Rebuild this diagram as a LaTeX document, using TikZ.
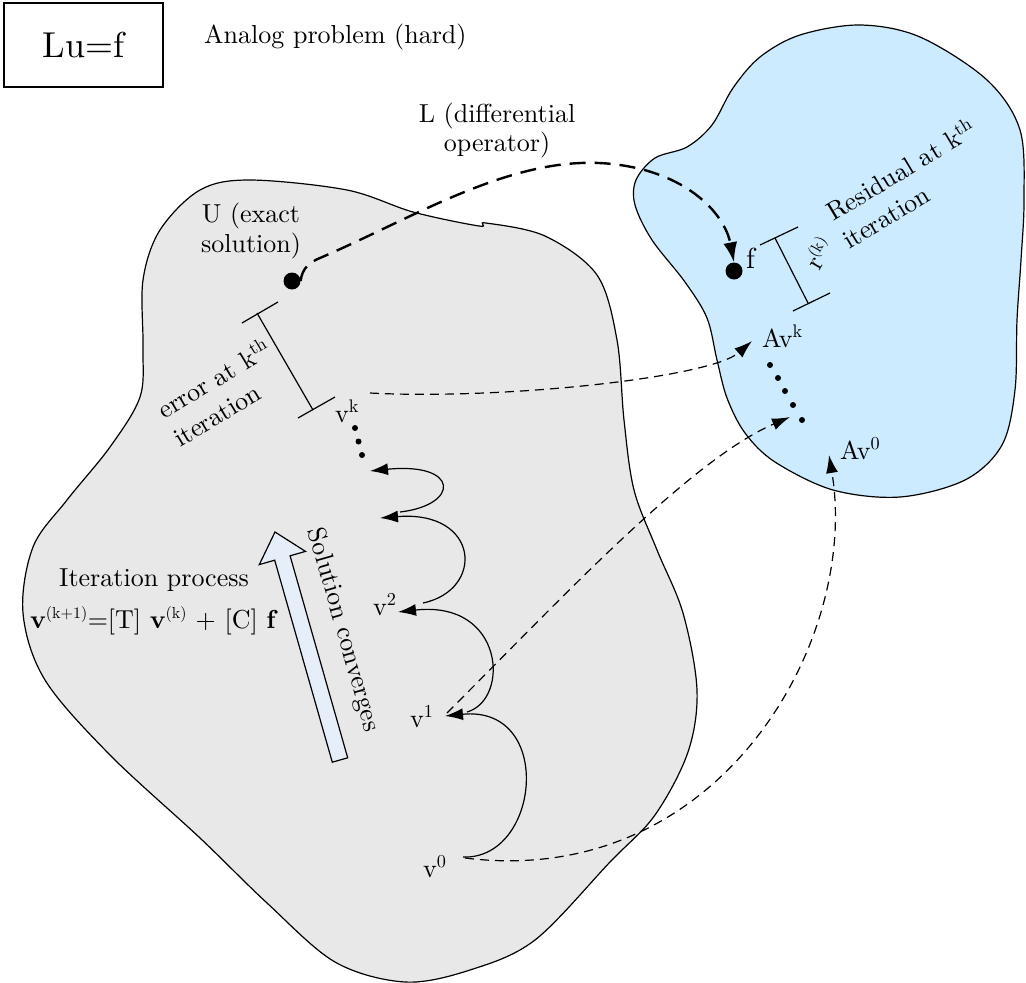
\documentclass[tikz,border=0pt]{standalone}
\usepackage{fontspec}
\setmainfont{lmroman10-regular.otf}[BoldFont=lmroman10-bold.otf]
\usetikzlibrary{arrows.meta}
\definecolor{grayblob}{HTML}{E8E8E8}
\definecolor{blueblob}{HTML}{CCEBFF}
\definecolor{arrowfill}{HTML}{E6EEF9}
\newcommand\smallsup[1]{\textsuperscript{\fontsize{16}{16}\selectfont #1}}
\begin{document}
\begin{tikzpicture}[x=1pt,y=-1pt,
  txt/.style={font=\fontsize{26}{29.5}\selectfont, inner sep=0pt},
  bigtxt/.style={font=\fontsize{36}{40}\selectfont, inner sep=0pt},
  ftxt/.style={font=\fontsize{29}{32}\selectfont, inner sep=0pt},
  outline/.style={draw=black, line width=1.2pt},
  ln/.style={line width=1.2pt},
  dot/.style={circle, fill=black, inner sep=0pt, minimum size=17pt},
  tip/.style={-{Latex[length=18pt,width=12pt]}},
  dashthin/.style={line width=1.2pt, dash pattern=on 9pt off 6pt, tip},
  dashthick/.style={line width=2.4pt, dash pattern=on 16pt off 9pt, -{Latex[length=20pt,width=14pt]}},
  arc/.style={ln, tip}
]
\useasboundingbox (0,0) rectangle (1026,983);

% left domain (gray)
\draw[outline, fill=grayblob] plot[smooth cycle, tension=0.55] coordinates {
 (250,180) (347,190) (413,212) (479,226) (486,223) (545,236) (597,275) (617,340)
 (624,420) (634,490) (657,550) (683,613) (697,690) (688,752) (655,815) (610,862)
 (535,940) (470,970) (405,982) (335,962) (267,903) (200,838) (110,755) (45,680)
 (23,613) (33,547) (67,500) (110,447) (140,397) (143,347) (143,280) (160,230) (200,190)};

% right domain (blue)
\draw[outline, fill=blueblob] plot[smooth cycle, tension=0.55] coordinates {
 (655,158) (687,147) (712,125) (733,88) (760,57) (800,35) (860,25) (920,37)
 (987,80) (1020,130) (1024,200) (1021,260) (1017,320) (1015,390) (1002,445)
 (965,480) (900,497) (833,490) (775,462) (745,433) (727,398) (717,360)
 (707,318) (685,282) (652,240) (635,205) (636,180)};

% top-left box and title
\node[bigtxt, draw, line width=1.2pt, minimum width=159pt, minimum height=84pt] (lu) at (83.5,45) {Lu=f};
\node[txt, anchor=base west] (analog) at (204,43) {Analog problem (hard)};

% hollow arrow "Solution converges"
\draw[ln, fill=arrowfill] (347.7,757.8) -- (290.1,555.8) -- (305.5,551.4) -- (275,532)
  -- (259.3,564.6) -- (274.7,560.2) -- (332.3,762.2) -- cycle;
\node[txt, rotate=-74] (conv) at (343,630) {Solution converges};

% iteration text
\node[txt, anchor=base] (iter) at (154,586) {Iteration process};
\node[txt, anchor=base] (formula) at (154,628) {\textbf{v}\smallsup{(k+1)}=[T] \textbf{v}\smallsup{(k)} + [C] \textbf{f}};

% exact solution
\node[dot] (U) at (292,281) {};
\node[txt, align=center] (Ulab) at (251,231) {U (exact\\solution)};

% operator
\node[txt, align=center] (Llab) at (497,130.5) {L (differential\\operator)};

% f
\node[dot] (fdot) at (734,271) {};
\node[ftxt, anchor=base west] (flab) at (746,268) {f};

% iterates
\node[txt, anchor=base west] (vk) at (335,422) {v\textsuperscript{k}};
\node[txt, anchor=base west] (v2) at (373,615) {v\textsuperscript{2}};
\node[txt, anchor=base west] (v1) at (410,727) {v\textsuperscript{1}};
\node[txt, anchor=base west] (v0) at (423,877) {v\textsuperscript{0}};
\node[txt, anchor=base west] (Avk) at (762,347) {Av\textsuperscript{k}};
\node[txt, anchor=base west] (Av0) at (840,459) {Av\textsuperscript{0}};

% dots
\foreach \p in {(355,428),(358.5,441.5),(362,455)} \fill \p circle (3pt);
\foreach \p in {(770,365),(778,378),(785,391),(793,405),(802,420)} \fill \p circle (3pt);

% error dimension
\coordinate (e1) at (257,313);
\coordinate (e2) at (313,410);
\draw[ln] (e1) -- (e2);
\draw[ln] (242,323) -- (278,302);
\draw[ln] (298,418) -- (335,397);
\node[txt, rotate=31, anchor=base west] (err1) at (164,420) {error at k\textsuperscript{th}};
\node[txt, rotate=31, anchor=base west] (err2) at (180,448) {iteration};

% residual dimension
\coordinate (r1) at (775,238);
\coordinate (r2) at (808,303);
\draw[ln] (r1) -- (r2);
\draw[ln] (760,245) -- (798,227);
\draw[ln] (793,311) -- (830,293);
\node[txt, rotate=60] (rk) at (818,253) {r\smallsup{(k)}};
\node[txt, rotate=31, anchor=base west] (res1) at (833,222) {Residual at k\textsuperscript{th}};
\node[txt, rotate=31, anchor=base west] (res2) at (849,250) {iteration};

% iteration arcs
\coordinate (a0) at (463,857);
\coordinate (a1) at (445,716);
\coordinate (b1) at (467,712);
\coordinate (a2) at (398,612);
\coordinate (b2) at (423,603);
\coordinate (a3) at (380,518);
\coordinate (b3) at (400,512);
\coordinate (a4) at (370,471);
\draw[arc] (a0) .. controls (540,860) and (555,705) .. (a1);
\draw[arc] (b1) .. controls (510,700) and (505,600) .. (a2);
\draw[arc] (b2) .. controls (485,590) and (480,510) .. (a3);
\draw[arc] (b3) .. controls (460,505) and (460,462) .. (a4);

% mapping connectors
\coordinate (vkr) at (370,393);
\coordinate (avkt) at (752,341);
\coordinate (v1r) at (447,713);
\coordinate (dtt) at (790,417);
\coordinate (v0r) at (465,858);
\coordinate (av0t) at (829,455);
\draw[dashthin] (vkr) .. controls (500,400) and (710,378) .. (avkt);
\draw[dashthin] (v1r) .. controls (560,600) and (690,460) .. (dtt);
\draw[dashthin] (v0r) .. controls (720,890) and (860,640) .. (av0t);

% operator L
\draw[dashthick] (U.east) .. controls (302,268) and (310,262) .. (320,258)
  .. controls (420,215) and (520,150) .. (620,165)
  .. controls (690,175) and (725,215) .. (fdot.north);
\end{tikzpicture}
\end{document}
